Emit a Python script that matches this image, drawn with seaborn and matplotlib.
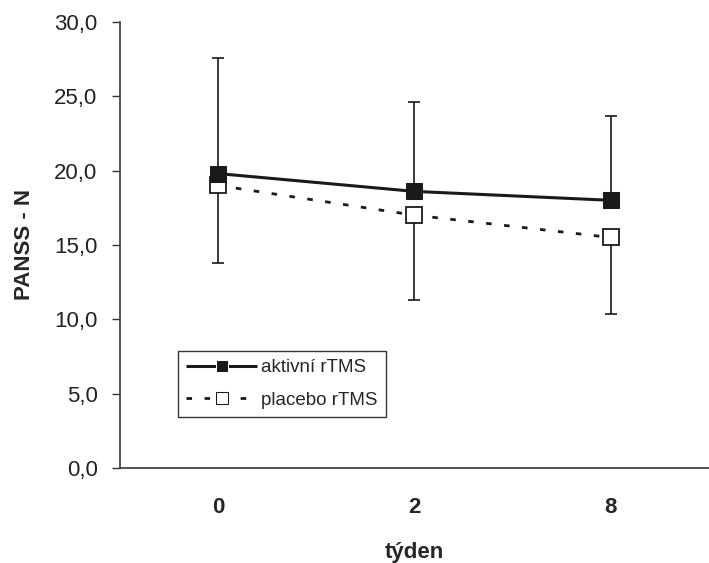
import matplotlib
matplotlib.use("Agg")
import matplotlib.pyplot as plt
import pandas as pd
import seaborn as sns

# Data
weeks = ["0", "2", "8"]
active_mean = [19.8, 18.6, 18.0]
placebo_mean = [19.0, 17.0, 15.5]
active_err_up = [7.75, 6.0, 5.65]
placebo_err_down = [5.25, 5.7, 5.15]
series_names = ["aktivní rTMS", "placebo rTMS"]

df = pd.DataFrame({
    "týden": weeks * 2,
    "PANSS - N": active_mean + placebo_mean,
    "skupina": [series_names[0]] * 3 + [series_names[1]] * 3,
})

sns.set_style("white")
plt.rcParams["font.family"] = ["Liberation Sans", "DejaVu Sans"]

fig = plt.figure(figsize=(7.09, 5.63), dpi=100)
ax = fig.add_axes([0.169, 0.169, 0.831, 0.792])

ink = "#1a1a1a"

# Error bars: upper for active, lower for placebo (Excel style)
xpos = list(range(len(weeks)))
ax.errorbar(xpos, active_mean, yerr=[[0] * 3, active_err_up], fmt="none",
            ecolor=ink, elinewidth=1.2, capsize=4, capthick=1.2, zorder=2)
ax.errorbar(xpos, placebo_mean, yerr=[placebo_err_down, [0] * 3], fmt="none",
            ecolor=ink, elinewidth=1.2, capsize=4, capthick=1.2, zorder=2)

# placebo drawn first so the active markers sit on top
sns.lineplot(data=df, x="týden", y="PANSS - N", hue="skupina", style="skupina",
             hue_order=series_names[::-1], style_order=series_names[::-1],
             palette=[ink, ink], markers=["s", "s"], dashes=[(2, 4.5), (1, 0)],
             markersize=11, linewidth=2.2, ax=ax, zorder=3, legend=True)

# open squares for placebo
for ln in ax.get_lines():
    if len(ln.get_xdata()) != 3:
        continue
    if list(ln.get_ydata()) == placebo_mean:
        ln.set_markerfacecolor("white")
        ln.set_markeredgecolor(ink)
        ln.set_markeredgewidth(1.3)
        ln.set_linewidth(2.0)
    else:
        ln.set_markerfacecolor(ink)
        ln.set_markeredgecolor(ink)

ax.set_xlim(-0.5, 2.5)
ax.set_ylim(0, 30)
yvals = [0, 5, 10, 15, 20, 25, 30]
ax.set_yticks(yvals)
ax.set_yticklabels([f"{v:.1f}".replace(".", ",") for v in yvals],
                   fontsize=16, color="#222222")
ax.set_xticks(xpos)
ax.set_xticklabels(weeks, fontsize=16, fontweight="bold")
ax.set_xticks([-0.5, 0.5, 1.5, 2.5], minor=True)
ax.tick_params(axis="x", which="major", length=0, pad=21)
ax.tick_params(axis="x", which="minor", length=5, width=1, color="#333333", direction="out")
ax.tick_params(axis="y", length=6, width=1, color="#333333", direction="out", pad=10, left=True)

for side in ["top", "right"]:
    ax.spines[side].set_visible(False)
for side in ["left", "bottom"]:
    ax.spines[side].set_color("#444444")
    ax.spines[side].set_linewidth(1.3)

ax.set_xlabel("týden", fontsize=16, fontweight="bold", labelpad=17)
ax.set_ylabel("PANSS - N", fontsize=16, fontweight="bold", labelpad=14)

# legend in the reference order, placebo handle with open square
handles, labels = ax.get_legend_handles_labels()
order = [labels.index(n) for n in series_names]
handles = [handles[i] for i in order]
labels = [labels[i] for i in order]
for h, lab in zip(handles, labels):
    if lab == series_names[1]:
        h.set_markerfacecolor("white")
        h.set_markeredgecolor(ink)
        h.set_linewidth(2.0)
    else:
        h.set_markerfacecolor(ink)
leg = ax.legend(handles, labels, loc="lower left", bbox_to_anchor=(0.098, 0.114),
                fontsize=13.5, frameon=True, fancybox=False, edgecolor="black",
                handlelength=3.8, borderpad=0.45, labelspacing=0.8, handletextpad=0.2,
                borderaxespad=0)
leg.get_frame().set_linewidth(1.0)
for h in leg.legend_handles:
    h.set_markersize(8)

fig.savefig("out.png", dpi=100)
